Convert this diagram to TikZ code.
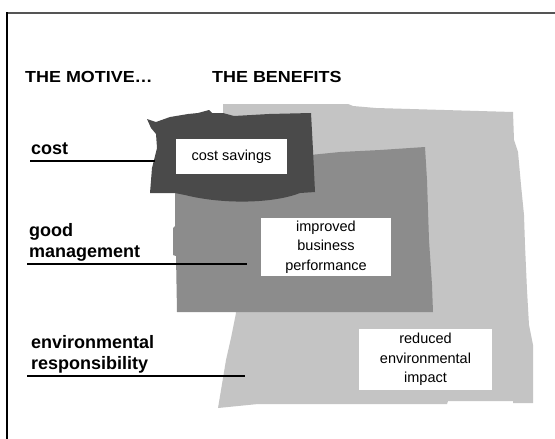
\documentclass[tikz,border=0pt]{standalone}
\usepackage{fontspec}
\setmainfont{Liberation Sans}
\definecolor{paleshade}{HTML}{C4C4C4}
\definecolor{midshade}{HTML}{8C8C8C}
\definecolor{darkshade}{HTML}{4A4A4A}
\definecolor{rulegray}{HTML}{555555}
\tikzset{
  header/.style={anchor=base west, inner sep=0pt,
    font=\fontsize{16}{16}\selectfont\bfseries},
  motive/.style={anchor=base west, inner sep=0pt, align=left,
    font=\fontsize{18}{21}\selectfont\bfseries},
  benefit/.style={fill=white, inner sep=0pt, align=center,
    font=\fontsize{14.5}{19.5}\selectfont},
  leader/.style={line width=1.4pt, black},
}
\begin{document}
\begin{tikzpicture}[x=1pt, y=-1pt]
  \useasboundingbox (0,0) rectangle (555,439);
  \fill[white] (0,0) rectangle (555,439);

  % frame
  \draw[rulegray, line width=2pt] (6,13) -- (555,13);
  \draw[black, line width=2pt] (6.5,12) -- (6.5,439);

  % column headings
  \node[header] (hmotive) at (25,82) {\scalebox{1.12}[1]{THE MOTIVE\dots}};
  \node[header] (hbenefit) at (212,82) {\scalebox{1.12}[1]{THE BENEFITS}};

  % environmental benefit area
  \fill[paleshade] (223,104) -- (348,104) -- (353,106) -- (376,108) -- (410,109)
    -- (513,112) -- (514,140) -- (518,152) -- (521,185) -- (524,215)
    -- (525,245) -- (527,290) -- (529,325) -- (533,345) -- (533,403)
    -- (513,403) -- (513,401) -- (448,401) -- (447,404) -- (258,404)
    -- (218,408) -- (221,390) -- (226,360) -- (231,338) -- (236,313)
    -- (223,250) -- cycle;

  % business benefit area
  \fill[midshade] (175,150) -- (310,155) -- (340,152) -- (380,150) -- (425,147)
    -- (427,180) -- (429,240) -- (432,285) -- (433,312) -- (177,312)
    -- (176,256) -- (173,255) -- (173,228) -- (175,226) -- cycle;

  % cost benefit area
  \fill[darkshade] (147,119) -- (156,122) -- (170,117) -- (188,114) -- (198,113)
    -- (209,110) -- (212,113) -- (223,113) -- (234,116) -- (269,114)
    -- (311,113) -- (313,150) -- (315,192) -- (300,193)
    .. controls (275,203) and (225,205) .. (185,195)
    -- (175,193) -- (150,193) -- (152,168) -- (157,148) -- (156,134)
    -- (151,128) -- cycle;

  % benefits
  \node[benefit, minimum width=111pt, minimum height=35pt] (bcost)
    at (231.5,156.5) {cost savings};
  \node[benefit, minimum width=130pt, minimum height=58pt] (bbusiness)
    at (326,247) {improved\\business\\performance};
  \node[benefit, minimum width=133pt, minimum height=61pt] (benv)
    at (425.5,359.5) {reduced\\environmental\\impact};

  % motives (base anchor sits on the last line)
  \node[motive] (mcost) at (31,154) {cost};
  \node[motive] (mmanage) at (29,257) {good\\management};
  \node[motive] (menv) at (31,369) {environmental\\responsibility};

  % leader lines from each motive into its benefit area
  \coordinate (lcost0) at (30,161);   \coordinate (lcost1) at (155,161);
  \coordinate (lman0) at (27,264);    \coordinate (lman1) at (247,264);
  \coordinate (lenv0) at (27,376);    \coordinate (lenv1) at (245,376);
  \draw[leader] (lcost0) -- (lcost1);
  \draw[leader] (lman0) -- (lman1);
  \draw[leader] (lenv0) -- (lenv1);
\end{tikzpicture}
\end{document}
